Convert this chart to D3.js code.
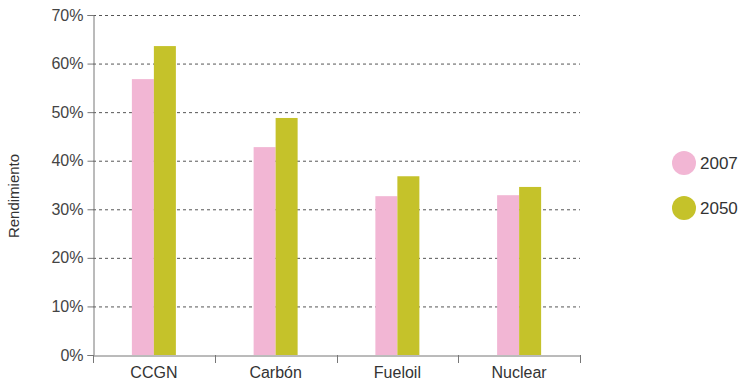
<!DOCTYPE html>
<html><head><meta charset="utf-8">
<script src="https://cdn.jsdelivr.net/npm/d3@7"></script>
<style>body{margin:0;background:#fff;} text{font-family:"Helvetica Neue",Arial,"Liberation Sans",sans-serif;}</style>
</head><body><svg id="c" width="743" height="384"></svg>
<script>
const categories = ["CCGN","Carbón","Fueloil","Nuclear"];
const seriesNames = ["2007","2050"];
const values2007 = [56.8, 42.8, 32.7, 32.9];
const values2050 = [63.6, 48.8, 36.8, 34.6];
const yTicks = [0,10,20,30,40,50,60,70];
const colors = ["#f2b6d4","#c5c22a"];

(function(){
const svg = d3.select("#c");
const mLeft=93, mRight=580, mTop=15, mBottom=355;
const x = d3.scaleBand().domain(categories).range([mLeft,mRight]);
const y = d3.scaleLinear().domain([0,70]).range([mBottom,mTop]);
const xs = d3.scaleBand().domain(seriesNames).range([0,44]);
const FF = "Helvetica Neue,Arial,Liberation Sans,sans-serif";

// grid
svg.append("g").selectAll("line").data(yTicks.filter(d=>d>0)).join("line")
  .attr("x1",mLeft).attr("x2",mRight).attr("y1",d=>y(d)+0.5).attr("y2",d=>y(d)+0.5)
  .attr("stroke","#555").attr("stroke-dasharray","3,3").attr("stroke-width",1);

// bars
const data = categories.map((c,i)=>({c, v:[values2007[i],values2050[i]]}));
const g = svg.append("g");
data.forEach(d=>{
  seriesNames.forEach((s,j)=>{
    g.append("rect")
     .attr("x", x(d.c)+x.bandwidth()/2-22+xs(s))
     .attr("width", xs.bandwidth())
     .attr("y", y(d.v[j]))
     .attr("height", y(0)-y(d.v[j]))
     .attr("fill", colors[j]);
  });
});

// y axis
const ya = svg.append("g").attr("transform",`translate(${mLeft+0.5},0)`)
  .call(d3.axisLeft(y).tickValues(yTicks).tickFormat(d=>d+"%").tickSize(6).tickPadding(4));
ya.select(".domain").attr("stroke","#777");
ya.selectAll(".tick line").attr("stroke","#777");
ya.selectAll("text").attr("font-size",16).attr("fill","#444").attr("font-family",FF);

// x axis
const xa = svg.append("g").attr("transform",`translate(0,${mBottom+0.5})`)
  .call(d3.axisBottom(x).tickSize(0).tickPadding(11));
xa.select(".domain").attr("stroke","#777");
xa.selectAll("text").attr("font-size",16).attr("fill","#333").attr("font-family",FF);
const xb = [mLeft, ...categories.map(c=>x(c)+x.bandwidth())];
svg.append("g").selectAll("line").data(xb).join("line")
  .attr("x1",d=>Math.round(d)+0.5).attr("x2",d=>Math.round(d)+0.5)
  .attr("y1",mBottom).attr("y2",mBottom+8).attr("stroke","#777");

// y label
svg.append("text").attr("transform","translate(19,196) rotate(-90)")
  .attr("text-anchor","middle").attr("font-size",15).attr("fill","#333").attr("font-family",FF).text("Rendimiento");

// legend
seriesNames.forEach((s,i)=>{
  const cy = 163 + i*45;
  svg.append("circle").attr("cx",684).attr("cy",cy).attr("r",12).attr("fill",colors[i]);
  svg.append("text").attr("x",700).attr("y",cy+6).attr("font-size",17).attr("fill","#333").attr("font-family",FF).text(s);
});
})();
</script></body></html>
